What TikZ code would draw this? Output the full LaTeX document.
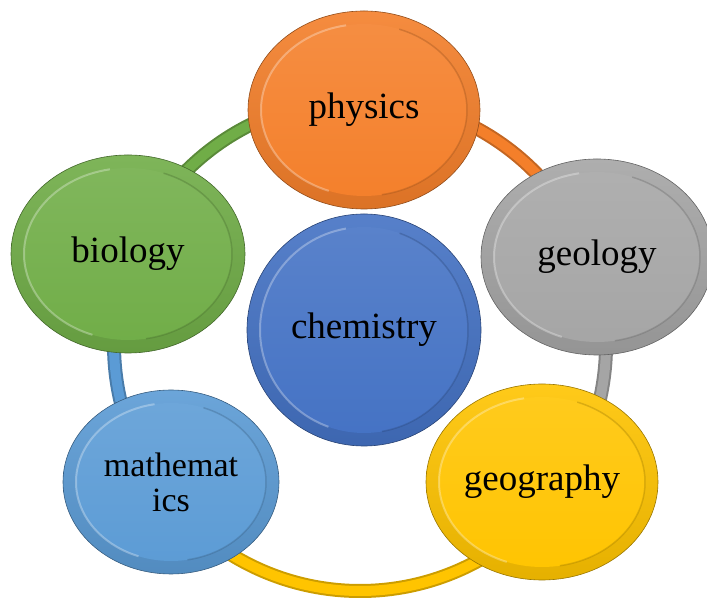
\documentclass[tikz,border=0pt]{standalone}
\usepackage{fontspec}
\setmainfont{Liberation Serif}
\usepackage{tikz}
\definecolor{physorange}{HTML}{F47F2A}
\definecolor{geolgray}{HTML}{A5A5A5}
\definecolor{geoggold}{HTML}{FFC400}
\definecolor{mathblue}{HTML}{5B9BD5}
\definecolor{biogreen}{HTML}{70AD47}
\definecolor{chemblue}{HTML}{4472C4}
\usetikzlibrary{shapes.geometric, calc}

\tikzset{
	bubble/.style args={#1/#2/#3}{ellipse, inner sep=0pt, align=center,
		minimum width=2*#2, minimum height=2*#3,
		draw=#1!60!black, line width=0.6pt,
		top color=#1!90!white, bottom color=#1!90!black,
		font=\fontsize{37}{37}\selectfont,
		path picture={
			\pgfmathsetmacro\ia{#2-13}\pgfmathsetmacro\ib{#3-13}
			\shade[top color=#1!88!white, bottom color=#1] (path picture bounding box.center) ellipse [x radius=\ia, y radius=\ib];
			\draw[white, opacity=.3, line width=2pt] ($(path picture bounding box.center)+(100:{\ia} and {\ib})$) arc[start angle=100, end angle=250, x radius=\ia, y radius=\ib];
			\draw[#1!55!black, opacity=.3, line width=1.5pt] ($(path picture bounding box.center)+(-80:{\ia} and {\ib})$) arc[start angle=-80, end angle=70, x radius=\ia, y radius=\ib];
		}},
	ring/.style={draw=#1!80!black, double=#1, double distance=10pt, line width=2pt}
}

\begin{document}
\begin{tikzpicture}[x=1pt, y=1pt]
			\useasboundingbox (0,0) rectangle (707,602);
			\coordinate (hub) at (360,257);
			
			% ring behind the subjects
			\draw[ring=physorange] (hub) ++(89:246) arc[start angle=89, end angle=20, radius=246];
			\draw[ring=geolgray] (hub) ++(20:246) arc[start angle=20, end angle=-37, radius=246];
			\draw[ring=geoggold] (hub) ++(-37:246) arc[start angle=-37, end angle=-144, radius=246];
			\draw[ring=mathblue] (hub) ++(216:246) arc[start angle=216, end angle=158.6, radius=246];
			\draw[ring=biogreen] (hub) ++(158.6:246) arc[start angle=158.6, end angle=89, radius=246];
			
			\node[bubble=physorange/116/99] (phys) at (364,492) {physics};
			\node[bubble=geolgray/116/98] (geol) at (597,345) {geology};
			\node[bubble=geoggold/116/98] (geog) at (542,120) {geography};
			\node[bubble=mathblue/108/92, font=\fontsize{34}{35}\selectfont] (math) at (171,120) {mathemat\\ics};
			\node[bubble=biogreen/117/99] (bio) at (128,348) {biology};
			\node[bubble=chemblue/117/116] (chem) at (364,272) {chemistry};
			
\end{tikzpicture}
\end{document}
